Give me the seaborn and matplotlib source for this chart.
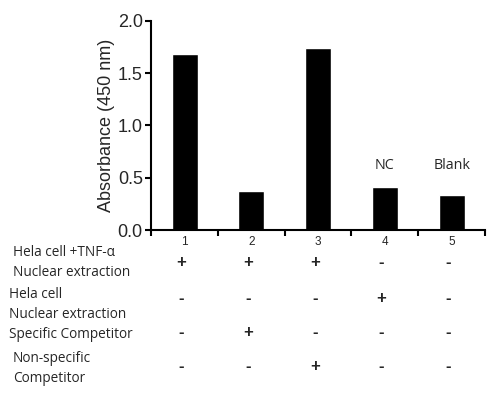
import numpy as np
import pandas as pd
import matplotlib.pyplot as plt
import matplotlib.transforms as mtransforms
import seaborn as sns

lanes = ["1", "2", "3", "4", "5"]
absorbance = [1.68, 0.37, 1.74, 0.41, 0.34]
notes = {3: "NC", 4: "Blank"}

row_labels = [["Hela cell +TNF-\u03b1", "Nuclear extraction"],
              ["Hela cell", "Nuclear extraction"],
              ["Specific Competitor"],
              ["Non-specific", "Competitor"]]
signs = [["+", "+", "+", "-", "-"],
         ["-", "-", "-", "+", "-"],
         ["-", "+", "-", "-", "-"],
         ["-", "-", "+", "-", "-"]]

df = pd.DataFrame({"lane": lanes, "abs": absorbance})

sns.set_style("white")
plt.rcParams["font.family"] = ["Liberation Sans", "DejaVu Sans"]

fig = plt.figure(figsize=(4.99, 3.94), dpi=100)
ax = fig.add_axes([0.303, 0.416, 0.669, 0.531])

sns.barplot(x="lane", y="abs", data=df, color="black", width=0.39,
            saturation=1, ax=ax)

ax.set_ylim(0, 2.0)
ax.set_xlim(-0.5, 4.5)
ax.set_yticks([0, 0.5, 1.0, 1.5, 2.0])
ax.set_yticklabels(["0.0", "0.5", "1.0", "1.5", "2.0"], fontsize=13)
ax.set_xticks(np.arange(-0.5, 5, 1))
ax.set_xticklabels([])
ax.set_xticks(range(5), minor=True)
ax.set_xticklabels(lanes, minor=True, fontsize=8.5)
ax.tick_params(axis="x", which="minor", length=0, pad=4)
ax.tick_params(axis="both", which="major", direction="out", length=4,
               width=1.5, color="black", left=True, bottom=True)
ax.tick_params(axis="y", pad=2)
ax.set_xlabel("")
ax.set_ylabel("Absorbance (450 nm)", fontsize=13, labelpad=2)

for s in ["top", "right"]:
    ax.spines[s].set_visible(False)
for s in ["left", "bottom"]:
    ax.spines[s].set_linewidth(1.5)
    ax.spines[s].set_color("black")

for i, txt in notes.items():
    ax.text(i, 0.62, txt, ha="center", va="center", fontsize=10.3,
            family="Open Sans")

# table below the chart
trans = mtransforms.blended_transform_factory(ax.transData, fig.transFigure)
label_y = [[252, 272], [294, 314], [335], [358, 378]]
sign_y = [263, 298, 333, 367]
label_x = [13, 9, 9, 13]
for r in range(4):
    for lab, py in zip(row_labels[r], label_y[r]):
        fig.text(label_x[r] / 499, 1 - py / 394, lab, ha="left", va="center",
                 fontsize=9.8, family=["Open Sans", "DejaVu Sans"])
    for c, sg in enumerate(signs[r]):
        ax.text(c - 0.05, 1 - sign_y[r] / 394, sg, transform=trans,
                ha="center", va="center", fontsize=12, fontweight="bold")

fig.savefig("out.png", dpi=100)
